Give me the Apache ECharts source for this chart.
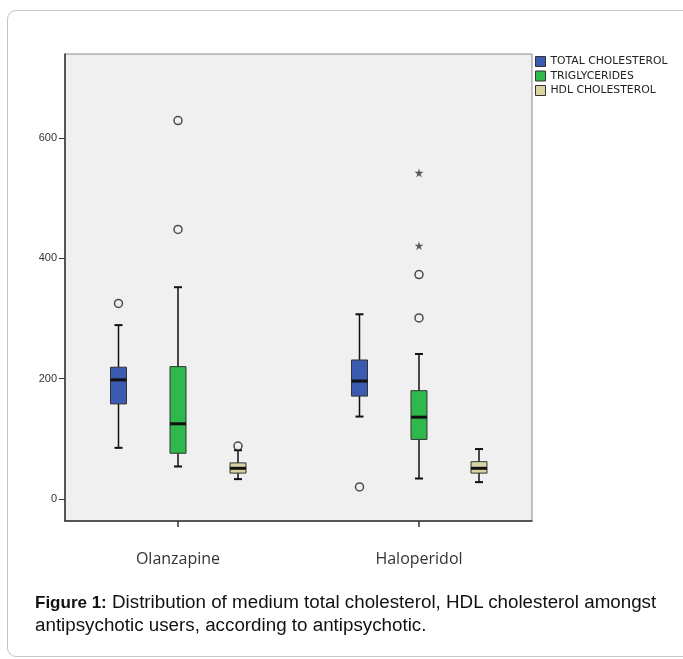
<!DOCTYPE html>
<html><head><meta charset="utf-8">
<script src="https://cdn.jsdelivr.net/npm/echarts@6/dist/echarts.min.js"></script>
<style>
body{margin:0;background:#fff;overflow:hidden;}
#frame{position:absolute;left:7px;top:10px;width:700px;height:645px;border:1px solid #c4c4c4;border-radius:9px;}
#chart{position:absolute;left:0;top:0;width:683px;height:659px;}
#cap{position:absolute;left:35px;top:591px;font-family:"Liberation Sans",Arial,sans-serif;font-size:18.8px;line-height:22px;color:#111;width:645px;}
#cap b{font-size:17px;}
</style></head><body>
<div id="frame"></div>
<div id="chart"></div>
<div id="cap"><b>Figure 1:</b> Distribution of medium total cholesterol, HDL cholesterol amongst antipsychotic users, according to antipsychotic.</div>
<script>
// ---- data ----
const categories = ['Olanzapine', 'Haloperidol'];
const seriesNames = ['TOTAL CHOLESTEROL', 'TRIGLYCERIDES', 'HDL CHOLESTEROL'];
// [min, Q1, median, Q3, max] per category
const totalCholesterol = [[85, 158, 198, 219, 289], [137, 171, 196, 231, 307]];
const triglycerides = [[54, 76, 125, 220, 352], [34, 99, 136, 180, 241]];
const hdlCholesterol = [[33, 43, 51, 60, 81], [28, 43, 51, 62, 83]];
// outliers: [categoryIndex, value]
const totalCholesterolOutliers = [[0, 325], [1, 20]];
const triglyceridesOutliers = [[0, 448], [0, 629], [1, 301], [1, 373]];
const triglyceridesExtremes = [[1, 421], [1, 542]];
const hdlCholesterolOutliers = [[0, 88]];
const yTicks = [0, 200, 400, 600];

// ---- styles ----
const colors = ['#3b5bb0', '#2fb84b', '#d8d3a0'];
const offsets = [-59.5, 0, 60];
const boxHalf = 8, capHalf = 4;

const boxes = [totalCholesterol, triglycerides, hdlCholesterol];
const outs = [totalCholesterolOutliers, triglyceridesOutliers, hdlCholesterolOutliers];

function boxSeries(k) {
  return {
    type: 'custom', name: seriesNames[k],
    itemStyle: { color: colors[k] },
    data: boxes[k].map((b, i) => [i + 1].concat(b)),
    renderItem: function (params, api) {
      const x = api.value(0);
      const p = [1, 2, 3, 4, 5].map(d => api.coord([x, api.value(d)]));
      const cx = p[0][0] + offsets[k];
      const ln = (x1, y1, x2, y2, w) => ({ type: 'line', shape: { x1, y1, x2, y2 }, style: { stroke: '#111', lineWidth: w } });
      return {
        type: 'group', children: [
          ln(cx, p[4][1], cx, p[3][1], 1.5),
          ln(cx, p[1][1], cx, p[0][1], 1.5),
          ln(cx - capHalf, p[4][1], cx + capHalf, p[4][1], 2),
          ln(cx - capHalf, p[0][1], cx + capHalf, p[0][1], 2),
          { type: 'rect', shape: { x: cx - boxHalf, y: p[3][1], width: boxHalf * 2, height: p[1][1] - p[3][1] },
            style: { fill: colors[k], stroke: '#333', lineWidth: 1 } },
          ln(cx - boxHalf, p[2][1], cx + boxHalf, p[2][1], 3)
        ]
      };
    }
  };
}
function outlierSeries(k, list, star) {
  return {
    type: 'scatter', name: 'out' + k + (star ? 's' : ''),
    symbol: star ? 'path://M50,0 L61,35 L98,35 L68,57 L79,91 L50,70 L21,91 L32,57 L2,35 L39,35 Z' : 'circle',
    symbolSize: star ? 9 : 8,
    symbolOffset: [offsets[k], 0],
    itemStyle: star ? { color: '#333' } : { color: '#f0f0f0', borderColor: '#222', borderWidth: 1.5 },
    data: list.map(o => [o[0] + 1, o[1]]),
    z: 5
  };
}

const series = [0, 1, 2].map(boxSeries)
  .concat([0, 1, 2].map(k => outlierSeries(k, outs[k], false)))
  .concat([outlierSeries(1, triglyceridesExtremes, true)]);

const chart = echarts.init(document.getElementById('chart'), null, { renderer: 'canvas' });
chart.setOption({
  animation: false,
  grid: { left: 65, top: 54, width: 467, height: 467, show: true, backgroundColor: '#f0f0f0', borderColor: '#8a8a8a', borderWidth: 1 },
  legend: {
    data: seriesNames.map(n => ({ name: n, icon: 'rect', itemStyle: { borderColor: '#333', borderWidth: 1 } })),
    orient: 'vertical', left: 535, top: 56, padding: 0, itemWidth: 10, itemHeight: 10, itemGap: 3.5,
    textStyle: { fontFamily: 'DejaVu Sans', fontSize: 10.8, color: '#222' }, selectedMode: false
  },
  xAxis: {
    type: 'value', min: 0.5311, max: 2.4689,
    axisLine: { show: true, onZero: false, lineStyle: { color: '#333', width: 1.5 } },
    axisTick: { show: true, customValues: [1, 2], length: 6, lineStyle: { color: '#333', width: 1.5 } },
    axisLabel: { customValues: [1, 2], formatter: v => categories[Math.round(v) - 1], fontFamily: 'Open Sans', fontSize: 16, color: '#333', margin: 30 },
    splitLine: { show: false }
  },
  yAxis: {
    type: 'value', min: -36.6, max: 739.6,
    axisLine: { show: true, onZero: false, lineStyle: { color: '#333', width: 1.5 } },
    axisTick: { show: true, customValues: yTicks, length: 6, lineStyle: { color: '#333' } },
    axisLabel: { customValues: yTicks, fontFamily: 'Liberation Sans', fontSize: 11, color: '#333', margin: 8 },
    splitLine: { show: false }
  },
  series: series
});
</script>
</body></html>
